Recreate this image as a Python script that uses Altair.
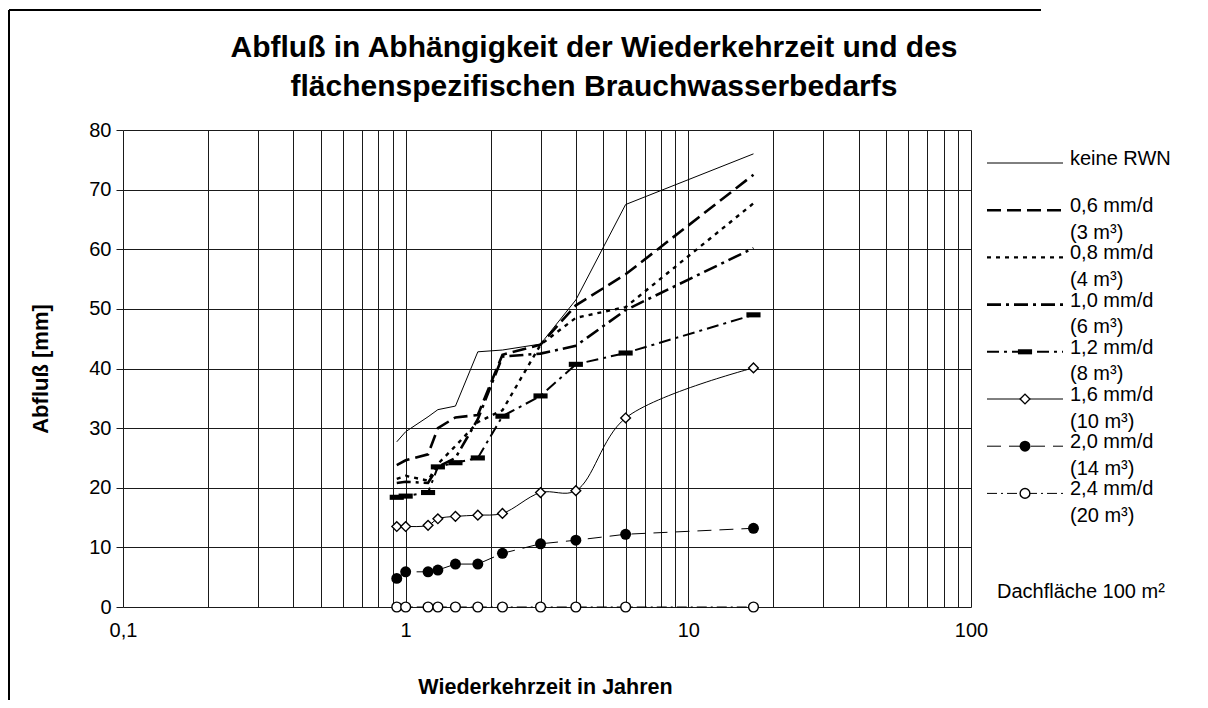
import altair as alt
import pandas as pd

# ---------------- data ----------------
return_period = [0.93, 1.0, 1.2, 1.3, 1.5, 1.8, 2.2, 3.0, 4.0, 6.0, 17.0]

runoff_keine = [27.7, 29.4, 31.9, 33.1, 33.7, 42.8, 43.1, 44.1, 51.5, 67.5, 76.0]
runoff_06 = [23.8, 24.6, 25.6, 30.0, 31.8, 32.2, 42.3, 44.0, 50.6, 55.8, 72.5]
runoff_08 = [21.5, 22.0, 21.2, 24.0, 27.0, 31.0, 33.0, 44.0, 48.5, 50.3, 67.7]
runoff_10 = [20.8, 21.0, 20.8, 23.5, 25.0, 31.5, 42.0, 42.5, 43.8, 49.8, 60.2]
runoff_12 = [18.4, 18.6, 19.2, 23.5, 24.2, 25.0, 32.0, 35.4, 40.7, 42.6, 49.0]
runoff_16 = [13.5, 13.5, 13.7, 14.8, 15.2, 15.4, 15.7, 19.2, 19.5, 31.7, 40.1]
runoff_20 = [4.8, 5.9, 5.9, 6.2, 7.2, 7.2, 9.0, 10.6, 11.2, 12.2, 13.2]
runoff_24 = [0.0, 0.0, 0.0, 0.0, 0.0, 0.0, 0.0, 0.0, 0.0, 0.0, 0.0]

series_keys = ["keine", "0.6", "0.8", "1.0", "1.2", "1.6", "2.0", "2.4"]
series_values = [runoff_keine, runoff_06, runoff_08, runoff_10,
                 runoff_12, runoff_16, runoff_20, runoff_24]
legend_line1 = ["keine RWN", "0,6 mm/d", "0,8 mm/d", "1,0 mm/d",
                "1,2 mm/d", "1,6 mm/d", "2,0 mm/d", "2,4 mm/d"]
legend_line2 = ["", "(3 m³)", "(4 m³)", "(6 m³)",
                "(8 m³)", "(10 m³)", "(14 m³)", "(20 m³)"]

x_tick_values = [0.1, 1, 10, 100]
x_tick_labels = ["0,1", "1", "10", "100"]
y_tick_values = [0, 10, 20, 30, 40, 50, 60, 70, 80]

title_lines = ["Abfluß in Abhängigkeit der Wiederkehrzeit und des",
               "flächenspezifischen Brauchwasserbedarfs"]
x_title = "Wiederkehrzeit in Jahren"
y_title = "Abfluß [mm]"
note_text = "Dachfläche 100 m²"

# ---------------- styles ----------------
FONT = "Liberation Sans"
INK = "#000000"
GRID = "#1a1a1a"
BAR = "M-1,-0.36L1,-0.36L1,0.36L-1,0.36Z"

styles = {
    "keine": dict(width=1.0),
    "0.6": dict(width=2.6, dash=[14, 6]),
    "0.8": dict(width=2.4, dash=[4, 5]),
    "1.0": dict(width=2.6, dash=[14, 5, 3, 5]),
    "1.2": dict(width=2.0, dash=[12, 5, 3, 5], shape=BAR, size=200, fill=INK, stroke=0),
    "1.6": dict(width=1.0, shape="diamond", size=95, fill="white", stroke=1.4,
                interp="catmull-rom"),
    "2.0": dict(width=1.0, dash=[14, 8], shape="circle", size=120, fill=INK, stroke=0),
    "2.4": dict(width=1.0, dash=[10, 4, 2, 4], shape="circle", size=95, fill="white",
                stroke=1.4),
}

W, H = 848, 477

rows = []
for key, vals in zip(series_keys, series_values):
    for xv, yv in zip(return_period, vals):
        rows.append({"T": xv, "Q": yv, "series": key})
df = pd.DataFrame(rows)

grid_x = []
for e in (0.1, 1, 10):
    for m in range(1, 10):
        grid_x.append(round(m * e, 6))
grid_x.append(100)

label_expr = ""
for v, lab in zip(x_tick_values, x_tick_labels):
    label_expr += f"datum.value == {v} ? '{lab}' : "
label_expr += "''"

x_enc = alt.X(
    "T:Q",
    scale=alt.Scale(type="log", domain=[0.1, 100], nice=False),
    axis=alt.Axis(values=grid_x, labelExpr=label_expr, title=x_title,
                  grid=True, gridColor=GRID, gridWidth=1, domain=False, ticks=False,
                  labelFont=FONT, labelFontSize=20, labelColor=INK, labelPadding=13,
                  labelOverlap=False, labelFlush=False, labelBound=False,
                  titleFont=FONT, titleFontSize=21.5, titleFontWeight="bold",
                  titleColor=INK, titleX=W / 2 - 2, titleY=86,
                  titleBaseline="alphabetic"),
)
y_enc = alt.Y(
    "Q:Q",
    scale=alt.Scale(domain=[0, 80], nice=False),
    axis=alt.Axis(values=y_tick_values, title=y_title, grid=True, gridColor=GRID,
                  gridWidth=1, domain=False, ticks=True, tickSize=7, tickColor=GRID,
                  labelFont=FONT, labelFontSize=20, labelColor=INK, labelPadding=5,
                  titleFont=FONT, titleFontSize=22, titleFontWeight="bold",
                  titleColor=INK, titleAngle=270, titleX=-83, titleY=H / 2,
                  titleBaseline="middle"),
)

layers = []
base = alt.Chart(df)
for key in series_keys:
    st = styles[key]
    line_kw = dict(color=INK, strokeWidth=st["width"], clip=False)
    if "dash" in st:
        line_kw["strokeDash"] = st["dash"]
    if "interp" in st:
        line_kw["interpolate"] = st["interp"]
    sub = base.transform_filter(alt.datum.series == key)
    layers.append(sub.mark_line(**line_kw).encode(x=x_enc, y=y_enc))
for key in series_keys:
    st = styles[key]
    if "shape" not in st:
        continue
    sub = base.transform_filter(alt.datum.series == key)
    pt_kw = dict(shape=st["shape"], size=st["size"], filled=True, fill=st["fill"],
                 opacity=1)
    if st["stroke"] > 0:
        pt_kw["stroke"] = INK
        pt_kw["strokeWidth"] = st["stroke"]
    layers.append(sub.mark_point(**pt_kw).encode(x=x_enc, y=y_enc))

# ---------------- legend (built from the series lists) ----------------
one = alt.Data(values=[{"k": 0}])
LEG_X0, LEG_X1, LEG_TXT = 864, 940, 947
LEG_TOP, LEG_STEP, LEG_SUB = 29, 47.2, 26.5
LEG_FS = 20
for i, key in enumerate(series_keys):
    st = styles[key]
    yc = LEG_TOP + i * LEG_STEP
    rule_kw = dict(color=INK, strokeWidth=st["width"])
    if "dash" in st:
        rule_kw["strokeDash"] = st["dash"]
    layers.append(alt.Chart(one).mark_rule(**rule_kw).encode(
        x=alt.value(LEG_X0), x2=alt.value(LEG_X1), y=alt.value(yc + 4)))
    if "shape" in st:
        pt_kw = dict(shape=st["shape"], size=st["size"], filled=True, fill=st["fill"],
                     opacity=1)
        if st["stroke"] > 0:
            pt_kw["stroke"] = INK
            pt_kw["strokeWidth"] = st["stroke"]
        layers.append(alt.Chart(one).mark_point(**pt_kw).encode(
            x=alt.value((LEG_X0 + LEG_X1) / 2), y=alt.value(yc + 4)))
    layers.append(alt.Chart(one).mark_text(
        text=legend_line1[i], align="left", baseline="middle", font=FONT,
        fontSize=LEG_FS, color=INK).encode(x=alt.value(LEG_TXT), y=alt.value(yc)))
    if legend_line2[i]:
        layers.append(alt.Chart(one).mark_text(
            text=legend_line2[i], align="left", baseline="middle", font=FONT,
            fontSize=LEG_FS, color=INK).encode(x=alt.value(LEG_TXT),
                                               y=alt.value(yc + LEG_SUB)))

layers.append(alt.Chart(one).mark_text(
    text=note_text, align="left", baseline="middle", font=FONT, fontSize=20,
    color=INK).encode(x=alt.value(874), y=alt.value(462)))

# ---------------- title ----------------
for j, t in enumerate(title_lines):
    layers.append(alt.Chart(one).mark_text(
        text=t, align="center", baseline="alphabetic", font=FONT, fontSize=30,
        fontWeight="bold", color=INK).encode(x=alt.value(471), y=alt.value(-73 + 39 * j)))

# ---------------- frame ----------------
layers.append(alt.Chart(one).mark_rule(color=INK, strokeWidth=2).encode(
    x=alt.value(-114), x2=alt.value(918), y=alt.value(-120)))
layers.append(alt.Chart(one).mark_rule(color=INK, strokeWidth=2).encode(
    x=alt.value(-114), y=alt.value(-120), y2=alt.value(570)))

chart = alt.layer(*layers).properties(
    width=W, height=H,
    autosize=alt.AutoSizeParams(type="none"),
    padding={"left": 115, "top": 122, "right": 210, "bottom": 93},
).configure_view(stroke=None)

chart.save("out.html", embed_options={"renderer": "svg", "actions": False})
